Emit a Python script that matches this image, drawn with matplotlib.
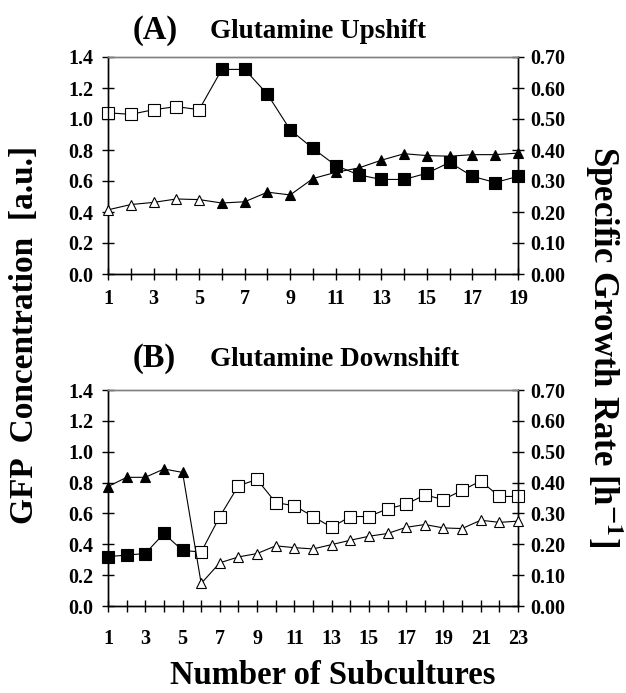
import matplotlib
matplotlib.use("Agg")
import matplotlib.pyplot as plt
import numpy as np

plt.rcParams['font.family'] = ['Liberation Serif', 'DejaVu Serif']
plt.rcParams['font.weight'] = 'bold'
plt.rcParams['mathtext.fontset'] = 'stix'

# ---- Panel A: Glutamine Upshift ----
a_sub = list(range(1, 20))
a_gfp = [1.04, 1.03, 1.06, 1.08, 1.06, 1.32, 1.32, 1.16, 0.93, 0.81, 0.70,
         0.64, 0.61, 0.61, 0.65, 0.72, 0.63, 0.59, 0.63]
a_mu = [0.207, 0.224, 0.231, 0.242, 0.240, 0.229, 0.233, 0.264, 0.255, 0.308,
        0.328, 0.342, 0.367, 0.388, 0.382, 0.380, 0.385, 0.385, 0.390]
a_open = [True] * 5 + [False] * 14   # open markers before the shift

# ---- Panel B: Glutamine Downshift ----
b_sub = list(range(1, 24))
b_gfp = [0.32, 0.33, 0.34, 0.47, 0.36, 0.35, 0.58, 0.78, 0.82, 0.67, 0.65,
         0.58, 0.51, 0.58, 0.58, 0.63, 0.66, 0.72, 0.69, 0.75, 0.81, 0.71, 0.71]
b_mu = [0.387, 0.417, 0.417, 0.444, 0.433, 0.073, 0.140, 0.159, 0.170, 0.195,
        0.189, 0.185, 0.199, 0.213, 0.226, 0.235, 0.255, 0.264, 0.253, 0.251,
        0.278, 0.271, 0.275]
b_open = [False] * 5 + [True] * 18

left_ticks = [0.0, 0.2, 0.4, 0.6, 0.8, 1.0, 1.2, 1.4]
right_ticks = [0.0, 0.1, 0.2, 0.3, 0.4, 0.5, 0.6, 0.7]

W, H = 626, 693
fig = plt.figure(figsize=(W / 100, H / 100), dpi=100)


def px_axes(x0, x1, ytop, ybot):
    return fig.add_axes([x0 / W, 1 - ybot / H, (x1 - x0) / W, (ybot - ytop) / H])


def draw_series(ax, x, y, open_flags, marker, ms):
    ax.plot(x, y, color='black', lw=0.8, zorder=2, clip_on=False)
    xo = [xi for xi, o in zip(x, open_flags) if o]
    yo = [yi for yi, o in zip(y, open_flags) if o]
    xf = [xi for xi, o in zip(x, open_flags) if not o]
    yf = [yi for yi, o in zip(y, open_flags) if not o]
    ax.plot(xo, yo, ls='none', marker=marker, ms=ms, mfc='white', mec='black',
            mew=0.8, zorder=3, clip_on=False)
    ax.plot(xf, yf, ls='none', marker=marker, ms=ms, mfc='black', mec='black',
            mew=0.8, zorder=3, clip_on=False)


TICK_FS = 14.5


def style(ax, ax2, n, xpad):
    ax.set_xlim(1, n)
    ax.set_ylim(0, 1.4)
    ax2.set_ylim(0, 0.7)
    ax.set_xticks(list(range(1, n + 1)))
    ax.set_xticklabels([str(i) if i % 2 == 1 else '' for i in range(1, n + 1)])
    ax.set_yticks(left_ticks)
    ax.set_yticklabels([f'{v:.1f}' for v in left_ticks])
    ax2.set_yticks(right_ticks)
    ax2.set_yticklabels([f'{v:.2f}' for v in right_ticks])
    for a in (ax, ax2):
        a.patch.set_visible(False)
        for s in a.spines.values():
            s.set_linewidth(1.0)
            s.set_color('black')
        a.spines['top'].set_color('#808080')
    ax.tick_params(axis='x', direction='inout', length=9, width=1.0,
                   labelsize=TICK_FS, pad=xpad)
    ax.tick_params(axis='y', direction='inout', length=9, width=1.0,
                   labelsize=TICK_FS, pad=6)
    ax2.tick_params(axis='y', direction='inout', length=9, width=1.0,
                    labelsize=TICK_FS, pad=4)
    for lab in ax.get_xticklabels() + ax.get_yticklabels() + ax2.get_yticklabels():
        lab.set_fontweight('bold')


# Panel A
axA = px_axes(108, 518, 57, 274)
axA2 = axA.twinx()
draw_series(axA, a_sub, a_gfp, a_open, 's', 8.5)
draw_series(axA2, a_sub, a_mu, a_open, '^', 7.5)
style(axA, axA2, 19, 6)

# Panel B
axB = px_axes(108, 518, 390, 606)
axB2 = axB.twinx()
draw_series(axB, b_sub, b_gfp, b_open, 's', 8.5)
draw_series(axB2, b_sub, b_mu, b_open, '^', 7.5)
style(axB, axB2, 23, 12)

# Titles
fig.text(133 / W, 1 - 30 / H, '(A)', fontsize=23.5, fontweight='bold', va='center', ha='left')
fig.text(210 / W, 1 - 31 / H, 'Glutamine Upshift', fontsize=19.5, fontweight='bold', va='center', ha='left')
fig.text(133 / W, 1 - 358 / H, '(B)', fontsize=23.5, fontweight='bold', va='center', ha='left')
fig.text(210 / W, 1 - 359 / H, 'Glutamine Downshift', fontsize=19.5, fontweight='bold', va='center', ha='left')

# Axis labels
fig.text(25 / W, 1 - 335 / H, 'GFP  Concentration  [a.u.]', fontsize=24, fontweight='bold',
         rotation=90, va='center', ha='center')
fig.text(604 / W, 1 - 347 / H, r'Specific Growth Rate [h$^{\mathbf{-1}}$]', fontsize=25,
         fontweight='bold', rotation=-90, va='center', ha='center')
fig.text(333 / W, 1 - 675 / H, 'Number of Subcultures', fontsize=23.5, fontweight='bold',
         va='center', ha='center')

fig.savefig('out.png', dpi=100)
